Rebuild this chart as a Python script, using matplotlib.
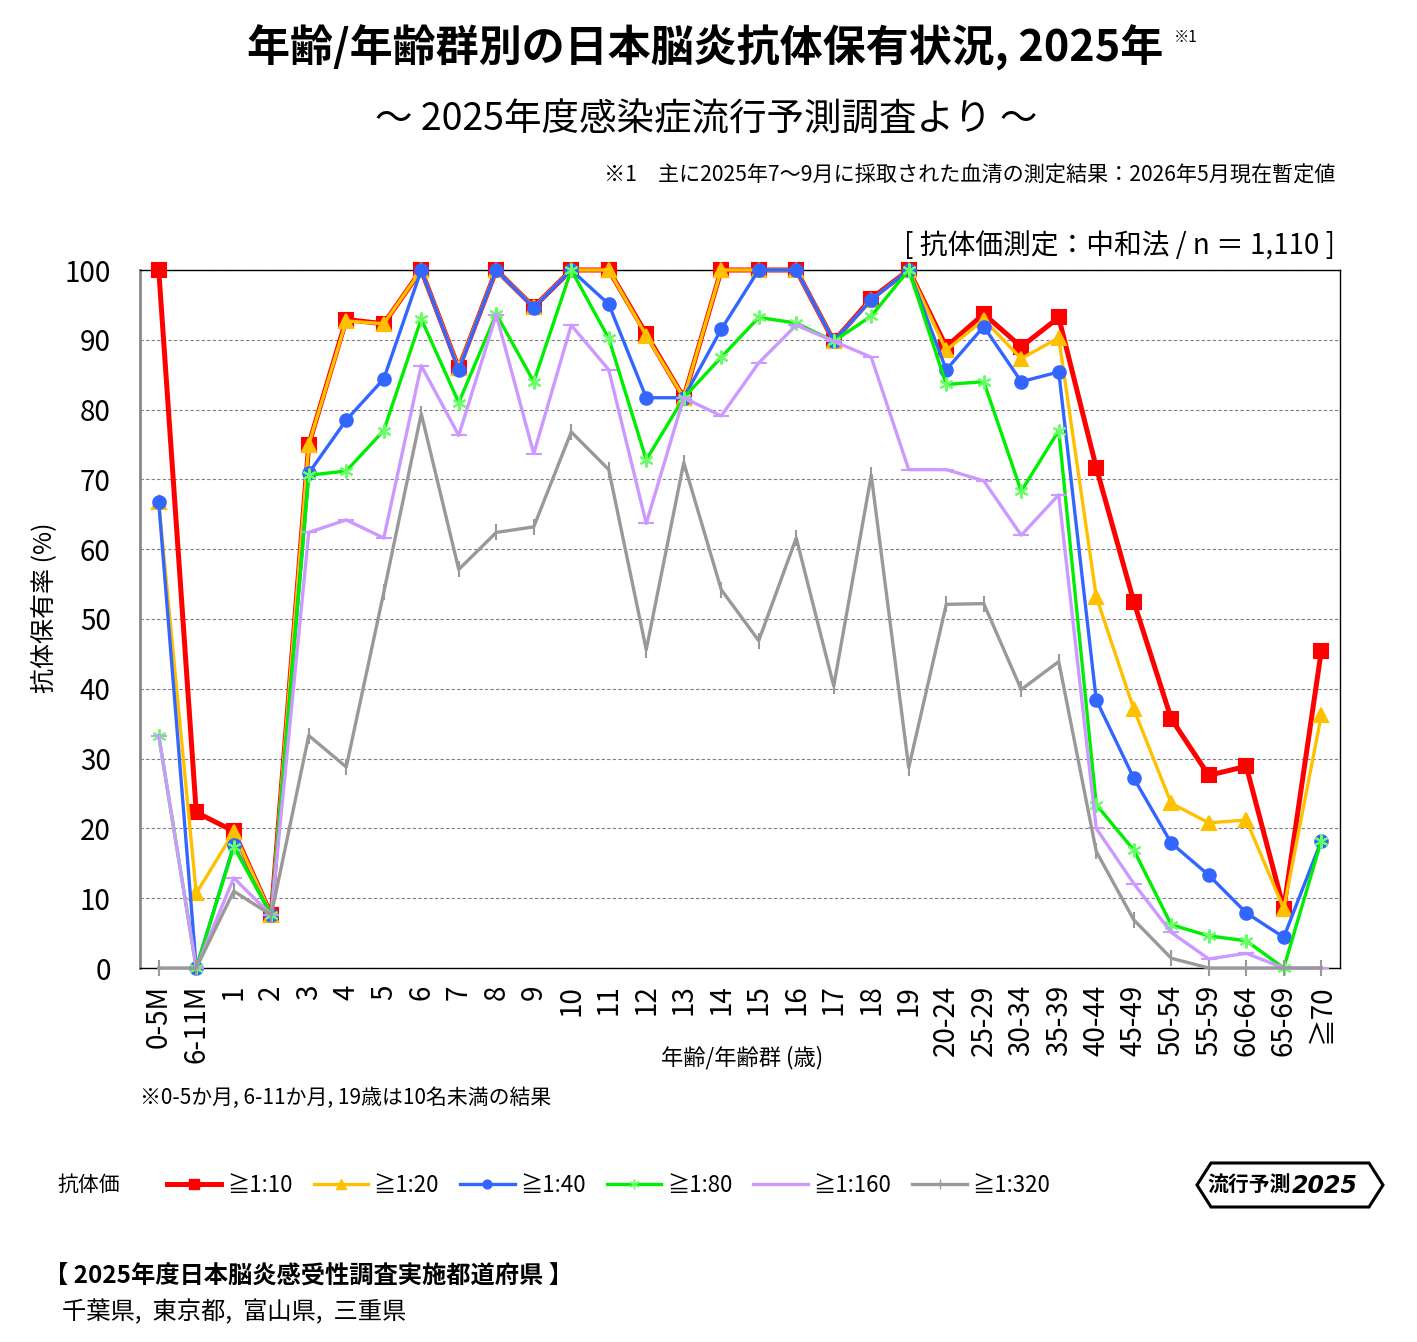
#!/usr/bin/env python3
# JE antibody prevalence by age, 2025

import sys

import matplotlib
matplotlib.use('Agg')
import matplotlib.pyplot as plt
from matplotlib.lines import Line2D
from matplotlib.patches import Polygon

plt.rcParams['font.family'] = ['Noto Sans CJK JP', 'DejaVu Sans']

W, H = 1417, 1342

CATEGORIES = ['0-5M', '6-11M', '1', '2', '3', '4', '5', '6', '7', '8', '9',
              '10', '11', '12', '13', '14', '15', '16', '17', '18', '19',
              '20-24', '25-29', '30-34', '35-39', '40-44', '45-49', '50-54',
              '55-59', '60-64', '65-69', '≧70']

T10 = [100, 22.3, 19.6, 7.6, 75.0, 92.9, 92.3, 100, 85.9, 100, 94.7, 100, 100,
       90.8, 81.7, 100, 100, 100, 89.8, 95.9, 100, 89.0, 93.7, 89.0, 93.2,
       71.7, 52.5, 35.7, 27.6, 28.9, 8.5, 45.4]
T20 = [66.7, 10.7, 19.5, 7.6, 75.0, 92.7, 92.3, 100, 85.9, 100, 94.7, 100, 100,
       90.6, 81.7, 100, 100, 100, 89.8, 95.7, 100, 88.5, 92.9, 87.3, 90.3,
       53.2, 37.1, 23.6, 20.8, 21.2, 8.5, 36.2]
T40 = [66.7, 0, 17.6, 7.6, 70.9, 78.5, 84.4, 100, 85.7, 100, 94.6, 100, 95.1,
       81.7, 81.7, 91.5, 100, 100, 89.8, 95.7, 100, 85.7, 91.9, 84.0, 85.4,
       38.4, 27.2, 17.9, 13.3, 7.9, 4.4, 18.2]
T80 = [33.3, 0, 17.4, 7.6, 70.6, 71.2, 77.0, 93.0, 81.0, 93.7, 84.0, 100, 90.2,
       72.8, 81.7, 87.5, 93.2, 92.4, 89.8, 93.4, 100, 83.6, 84.0, 68.3, 77.0,
       23.4, 16.9, 6.2, 4.6, 3.9, 0, 18.2]
T160 = [33.3, 0, 12.9, 7.6, 62.4, 64.2, 61.6, 86.3, 76.3, 93.6, 73.7, 92.1, 85.7,
        63.7, 81.7, 79.1, 86.7, 92.1, 89.8, 87.5, 71.4, 71.4, 69.8, 62.0, 67.8,
        20.0, 12.1, 5.1, 1.3, 2.1, 0, 0]
T320 = [0, 0, 11.0, 7.6, 33.3, 28.8, 53.8, 79.4, 57.1, 62.4, 63.2, 76.8, 71.4,
        45.6, 72.4, 54.2, 46.9, 61.6, 40.4, 70.6, 28.7, 52.1, 52.2, 39.9, 43.9,
        16.7, 6.9, 1.4, 0, 0, 0, 0]

SERIES_LABELS = ['≧1:10', '≧1:20', '≧1:40', '≧1:80', '≧1:160', '≧1:320']

# color, linewidth, marker, markersize, marker color
STYLES = [
  ('#ff0000', 3.6, 's', 10, '#ff0000'),
  ('#ffc000', 2.4, '^', 10, '#ffc000'),
  ('#3366ff', 2.4, 'o', 9, '#3366ff'),
  ('#00ee00', 2.4, (6, 2, 0), 10, '#66ff66'),
  ('#cc99ff', 2.4, '_', 11, '#cc99ff'),
  ('#999999', 2.4, '|', 11, '#999999'),
]


def fx(px):
  return px / W


def fy(py):
  return 1 - py / H


def graph(filename):
  fig = plt.figure(figsize=(W / 100, H / 100), dpi=100)

  fig.text(fx(705), fy(48), '年齢/年齢群別の日本脳炎抗体保有状況, 2025年',
           fontsize=31, fontweight='bold', ha='center', va='center')
  fig.text(fx(1174), fy(37), '※1', fontsize=11, ha='left', va='center')
  fig.text(fx(706), fy(120), '～ 2025年度感染症流行予測調査より ～',
           fontsize=27, ha='center', va='center')
  fig.text(fx(1335), fy(176),
           '※1　主に2025年7～9月に採取された血清の測定結果：2026年5月現在暫定値',
           fontsize=15.2, ha='right', va='center')
  fig.text(fx(1335), fy(247), '[ 抗体価測定：中和法 / n ＝ 1,110 ]',
           fontsize=20, ha='right', va='center')

  ax = fig.add_axes([fx(140), fy(968), (1340 - 140) / W, (968 - 270) / H])
  xs = list(range(len(CATEGORIES)))
  series = [T10, T20, T40, T80, T160, T320]
  handles = []
  for i, (vals, style) in enumerate(zip(series, STYLES)):
    color, lw, marker, ms, mcolor = style
    ax.plot(xs, vals, color=color, linewidth=lw, marker=marker, markersize=ms,
            markerfacecolor=mcolor, markeredgecolor=mcolor, markeredgewidth=1.5,
            clip_on=False, zorder=3 + i)
    handles.append(Line2D([], [], color=color, linewidth=lw, marker=marker,
                          markersize=ms * 0.7, markerfacecolor=mcolor,
                          markeredgecolor=mcolor))

  ax.set_xlim(-0.5, len(CATEGORIES) - 0.5)
  ax.set_ylim(0, 100)
  ax.set_yticks(range(0, 101, 10))
  ax.set_xticks(xs)
  ax.set_xticklabels(CATEGORIES, rotation=90, va='top', ha='center')
  ax.tick_params(axis='both', length=0, labelsize=20)
  ax.tick_params(axis='y', pad=21)
  ax.tick_params(axis='x', pad=12)
  for lbl in ax.get_yticklabels():
    lbl.set_horizontalalignment('right')
  ax.yaxis.grid(True, color='#808080', linestyle=(0, (3, 2)), linewidth=0.8)
  ax.set_axisbelow(True)
  for side in ('top', 'right', 'bottom'):
    ax.spines[side].set_color('black')
    ax.spines[side].set_linewidth(1)
  ax.spines['left'].set_color('#888888')
  ax.spines['left'].set_linewidth(2)

  fig.text(fx(45), fy(608), '抗体保有率 (%)', fontsize=18, rotation=90,
           ha='center', va='center')
  fig.text(fx(742), fy(1058), '年齢/年齢群 (歳)', fontsize=16,
           ha='center', va='center')
  fig.text(fx(140), fy(1098), '※0-5か月, 6-11か月, 19歳は10名未満の結果',
           fontsize=15, ha='left', va='center')

  fig.text(fx(57), fy(1185), '抗体価', fontsize=15, ha='left', va='center')
  fig.legend(handles, SERIES_LABELS, loc='center left', ncol=6,
             bbox_to_anchor=(fx(167), fy(1185)), frameon=False, fontsize=16,
             handlelength=2.45, handletextpad=0.25, columnspacing=0.95,
             borderaxespad=0, borderpad=0)

  # logo badge
  pts = [(1197, 1185), (1211, 1163), (1369, 1163), (1383, 1185),
         (1369, 1207), (1211, 1207)]
  fig.patches.append(Polygon([(fx(x), fy(y)) for x, y in pts], closed=True,
                             facecolor='white', edgecolor='black', linewidth=2.2,
                             transform=fig.transFigure))
  fig.text(fx(1207), fy(1185), '流行予測', fontsize=15, fontweight='bold',
           ha='left', va='center')
  fig.text(fx(1292), fy(1186), '2025', fontsize=17, fontweight='bold',
           fontstyle='italic', family='DejaVu Sans', ha='left', va='center')

  fig.text(fx(44), fy(1277), '【 2025年度日本脳炎感受性調査実施都道府県 】',
           fontsize=17.5, fontweight='bold', ha='left', va='center')
  fig.text(fx(62), fy(1312), '千葉県,  東京都,  富山県,  三重県',
           fontsize=17.5, ha='left', va='center')

  fig.savefig(filename, dpi=100, facecolor='white')
  plt.close(fig)
  return filename


def main():
  graph('out.png')


if __name__ == '__main__':
  sys.exit(main())
